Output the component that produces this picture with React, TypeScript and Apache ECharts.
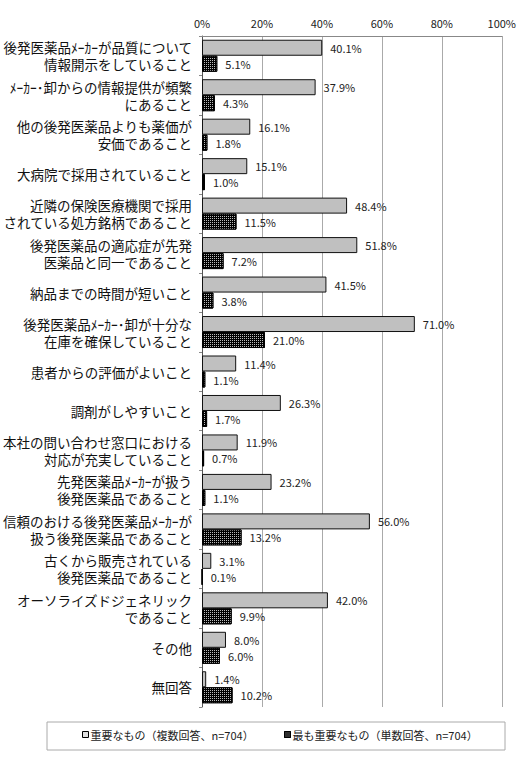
import React, { useEffect, useRef } from "react";
import * as echarts from "echarts";

const categories: string[] = [
  "後発医薬品ﾒｰｶｰが品質について\n情報開示をしていること",
  "ﾒｰｶｰ･卸からの情報提供が頻繁\nにあること",
  "他の後発医薬品よりも薬価が\n安価であること",
  "大病院で採用されていること",
  "近隣の保険医療機関で採用\nされている処方銘柄であること",
  "後発医薬品の適応症が先発\n医薬品と同一であること",
  "納品までの時間が短いこと",
  "後発医薬品ﾒｰｶｰ･卸が十分な\n在庫を確保していること",
  "患者からの評価がよいこと",
  "調剤がしやすいこと",
  "本社の問い合わせ窓口における\n対応が充実していること",
  "先発医薬品ﾒｰｶｰが扱う\n後発医薬品であること",
  "信頼のおける後発医薬品ﾒｰｶｰが\n扱う後発医薬品であること",
  "古くから販売されている\n後発医薬品であること",
  "オーソライズドジェネリック\nであること",
  "その他",
  "無回答",
];

const importantValues: number[] = [40.1, 37.9, 16.1, 15.1, 48.4, 51.8, 41.5, 71.0, 11.4, 26.3, 11.9, 23.2, 56.0, 3.1, 42.0, 8.0, 1.4];
const mostImportantValues: number[] = [5.1, 4.3, 1.8, 1.0, 11.5, 7.2, 3.8, 21.0, 1.1, 1.7, 0.7, 1.1, 13.2, 0.1, 9.9, 6.0, 10.2];

const seriesNames: string[] = ["重要なもの（複数回答、n=704）", "最も重要なもの（単数回答、n=704）"];

const FONT = "'Noto Sans CJK JP', 'Noto Sans', sans-serif";

export default function App() {
  const ref = useRef<HTMLDivElement>(null);
  useEffect(() => {
    document.body.style.margin = "0";
    if (!ref.current) return;
    const chart = echarts.init(ref.current, undefined, { renderer: "svg" });
    const label = {
      show: true,
      position: "right" as const,
      distance: 8,
      fontSize: 11,
      color: "#222",
      fontFamily: FONT,
      formatter: (p: any) => Number(p.value).toFixed(1) + "%",
    };
    const decal = {
      symbol: "rect",
      symbolSize: 1,
      color: "#bbb",
      dashArrayX: [1, 1],
      dashArrayY: [1, 1],
      rotation: 0,
    };
    const legendBase = {
      top: 729,
      padding: 0,
      itemGap: 0,
      itemWidth: 6,
      itemHeight: 6,
      icon: "rect",
      textStyle: { fontSize: 11, color: "#222", fontFamily: FONT, padding: [0, 0, 0, -3] },
    };
    chart.setOption({
      animation: false,
      backgroundColor: "#fff",
      textStyle: { fontFamily: FONT },
      grid: { left: 202, right: 4, top: 36, bottom: 50, containLabel: false },
      graphic: [
        {
          type: "rect",
          shape: { x: 47, y: 722, width: 458, height: 28 },
          style: { fill: "none", stroke: "#aaa", lineWidth: 1 },
          silent: true,
        },
      ],
      xAxis: {
        type: "value",
        position: "top",
        min: 0,
        max: 100,
        interval: 20,
        axisLabel: { formatter: "{value}%", fontSize: 11, color: "#222", margin: 8, fontFamily: FONT },
        axisLine: { show: true, lineStyle: { color: "#888", width: 1 } },
        axisTick: { show: false },
        splitLine: { show: true, lineStyle: { color: "#aaa", width: 1 } },
      },
      yAxis: {
        type: "category",
        inverse: true,
        data: categories,
        axisLine: { show: true, lineStyle: { color: "#555", width: 1 } },
        axisTick: { show: true, length: 3, lineStyle: { color: "#888" } },
        axisLabel: { fontSize: 13.5, color: "#111", margin: 10, lineHeight: 17, align: "right", fontFamily: FONT },
      },
      legend: [
        {
          ...legendBase,
          left: 82,
          data: [{ name: seriesNames[0], itemStyle: { color: "#e0e0e0", borderColor: "#000", borderWidth: 1 } }],
        },
        {
          ...legendBase,
          left: 284,
          data: [{ name: seriesNames[1], itemStyle: { color: "#000", borderColor: "#000", borderWidth: 1, decal } }],
        },
      ],
      series: [
        {
          name: seriesNames[0],
          type: "bar",
          data: importantValues,
          barWidth: 16,
          barGap: "0%",
          itemStyle: { color: "#c0c0c0", borderColor: "#111", borderWidth: 1 },
          label,
        },
        {
          name: seriesNames[1],
          type: "bar",
          data: mostImportantValues,
          barWidth: 16,
          barGap: "0%",
          itemStyle: {
            color: "#000",
            borderColor: "#000",
            borderWidth: 1,
            decal,
          },
          label,
        },
      ],
    });
    return () => chart.dispose();
  }, []);
  return <div ref={ref} style={{ width: 519, height: 757 }} />;
}
